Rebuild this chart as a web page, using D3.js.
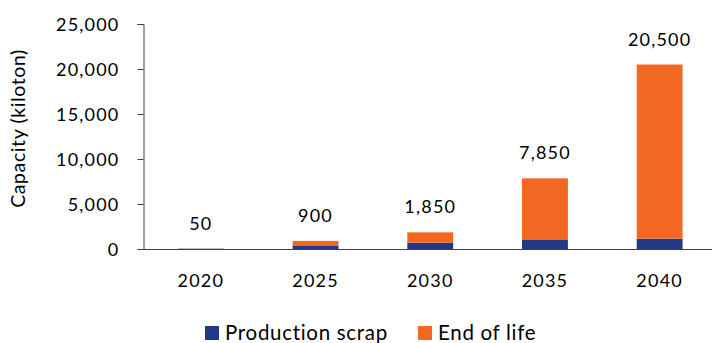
<!DOCTYPE html>
<html>
<head>
<meta charset="utf-8">
<script src="https://cdn.jsdelivr.net/npm/d3@7/dist/d3.min.js"></script>
<style>
  html, body { margin: 0; padding: 0; background: #fff; }
  svg { display: block; font-family: Lato, "Open Sans", sans-serif; }
</style>
</head>
<body>
<svg id="chart" width="712" height="343"></svg>
<script>
// Recycling capacity by year, split by feedstock source (kiloton)
const years = ["2020", "2025", "2030", "2035", "2040"];
const productionScrap = [30, 400, 700, 1000, 1150];
const endOfLife = [20, 500, 1150, 6850, 19350];
const totals = [50, 900, 1850, 7850, 20500];
const yTicks = [0, 5000, 10000, 15000, 20000, 25000];
const seriesNames = ["Production scrap", "End of life"];
const seriesColors = ["#203A87", "#F26722"];

const svg = d3.select("#chart");
const plotLeft = 143.5, plotBottom = 249, plotTop = 24, bandRight = 717;
const textColor = "#000";

const x = d3.scaleBand().domain(years).range([plotLeft, bandRight])
  .paddingInner(0.6).paddingOuter(0.3);
const y = d3.scaleLinear().domain([0, 25000]).range([plotBottom, plotTop]);

const fmt = d3.format(",");

// stacked bars: production scrap at the bottom, end of life on top
const rows = years.map((yr, i) => ({ year: yr, scrap: productionScrap[i], eol: endOfLife[i] }));
const stack = d3.stack().keys(["scrap", "eol"])(rows);

svg.append("g").selectAll("g").data(stack).join("g")
  .attr("fill", (d, i) => seriesColors[i])
  .selectAll("rect").data(d => d).join("rect")
  .attr("x", d => x(d.data.year))
  .attr("width", x.bandwidth())
  .attr("y", d => y(d[1]))
  .attr("height", d => y(d[0]) - y(d[1]));

// y axis
const yAxis = d3.axisLeft(y).tickValues(yTicks).tickFormat(fmt).tickSize(6).tickPadding(18);
const gy = svg.append("g").attr("transform", `translate(${plotLeft},0)`).call(yAxis);
gy.select(".domain").attr("stroke", "#404040");
gy.selectAll(".tick line").attr("stroke", "#404040");
gy.selectAll(".tick text").attr("font-size", 18).attr("fill", textColor)
  .attr("font-family", "Lato").style("letter-spacing", "1.2px").attr("dy", "0.36em");

// x axis
const xAxis = d3.axisBottom(x).tickSize(0).tickPadding(25);
const gx = svg.append("g").attr("transform", `translate(0,${plotBottom})`).call(xAxis);
gx.select(".domain").attr("stroke", "#404040").attr("d", `M${plotLeft},0.5H712`);
gx.selectAll(".tick text").attr("font-size", 18).attr("fill", textColor)
  .attr("font-family", "Lato").style("letter-spacing", "1.2px");

// total labels above each stack
svg.append("g").selectAll("text").data(totals).join("text")
  .attr("x", (d, i) => x(years[i]) + x.bandwidth() / 2)
  .attr("y", d => y(d) - 19)
  .attr("text-anchor", "middle")
  .attr("font-size", 18).attr("fill", textColor)
  .style("letter-spacing", "1.2px")
  .text(d => fmt(d));

// y axis title
svg.append("text")
  .attr("transform", `translate(25,${(plotTop + plotBottom) / 2 - 8}) rotate(-90)`)
  .attr("text-anchor", "middle")
  .attr("font-size", 19.5).attr("fill", textColor)
  .style("letter-spacing", "0.6px")
  .text("Capacity (kiloton)");

// legend
const legendX = [205, 418];
const lg = svg.append("g").selectAll("g").data(seriesNames).join("g")
  .attr("transform", (d, i) => `translate(${legendX[i]},326)`);
lg.append("rect").attr("width", 14).attr("height", 14)
  .attr("fill", (d, i) => seriesColors[i]);
lg.append("text").attr("x", 20).attr("y", 13.5)
  .attr("font-size", 20.5).attr("fill", textColor)
  .style("letter-spacing", "0.7px")
  .text(d => d);
</script>
</body>
</html>
